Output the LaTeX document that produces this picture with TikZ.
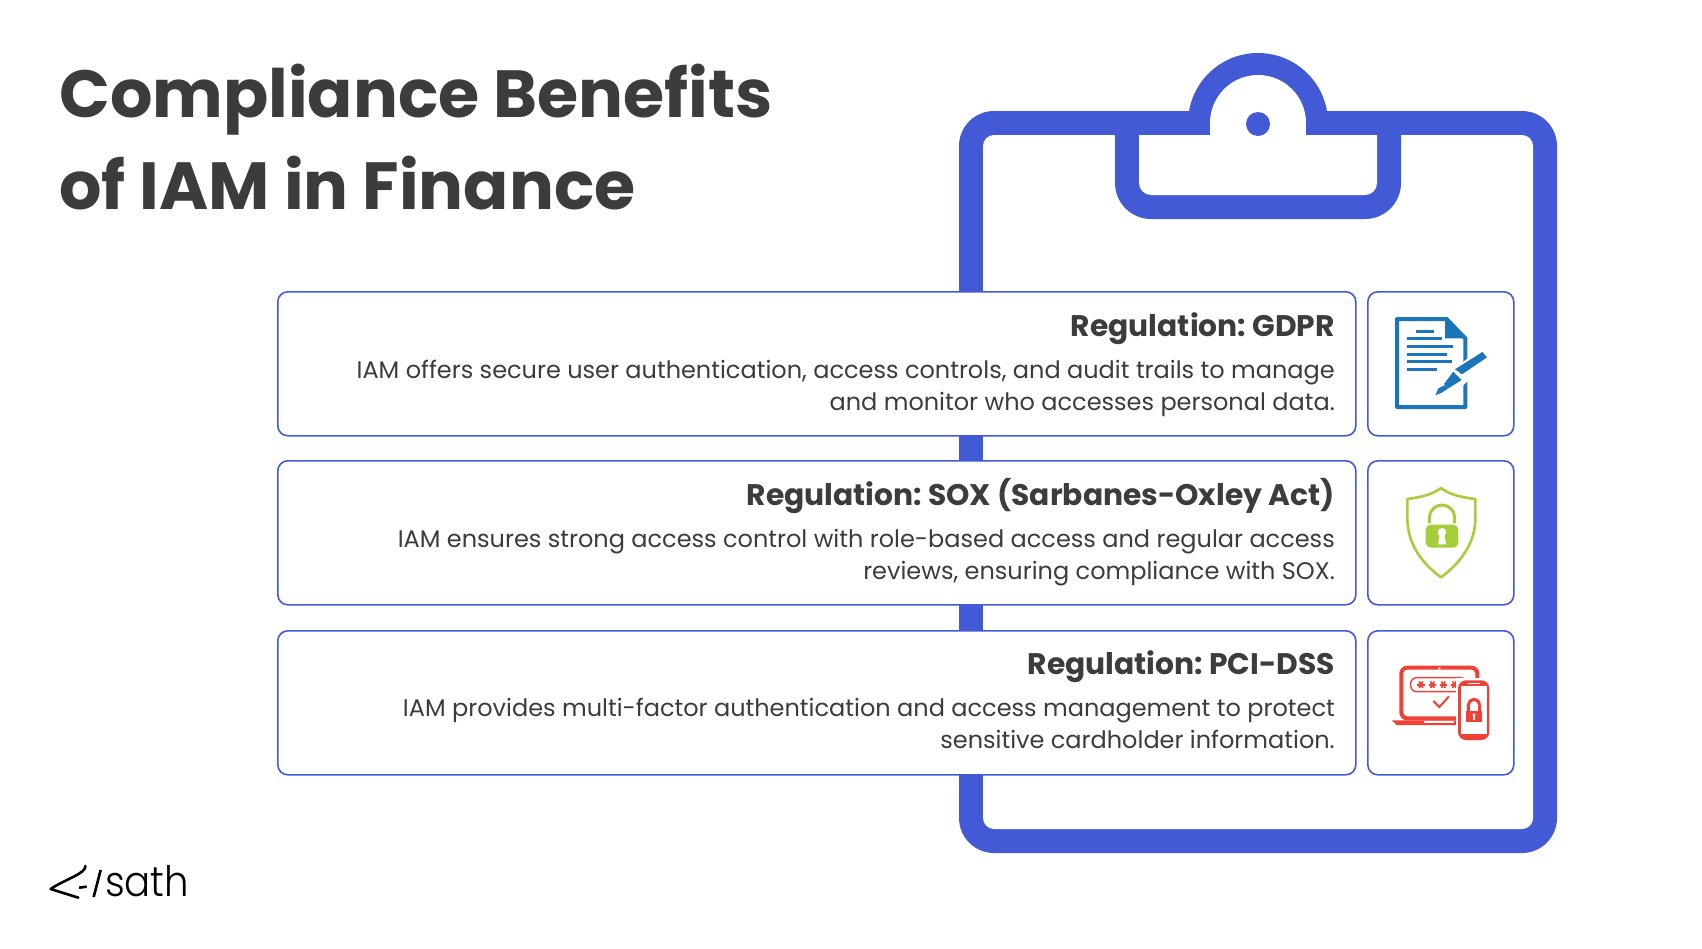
\documentclass[tikz,border=0pt]{standalone}
\usepackage{fontspec}
\setmainfont{Poppins}
\newfontfamily\logofont[FakeStretch=0.92]{Poppins Light}
\frenchspacing
\definecolor{clipblue}{HTML}{435AD6}
\definecolor{inkgray}{HTML}{3C3C3C}
\definecolor{docblue}{HTML}{1A75BB}
\definecolor{shieldgreen}{HTML}{A6CE39}
\definecolor{lockred}{HTML}{EF4136}
\tikzstyle{regbox}=[rectangle,rounded corners=10pt,draw=clipblue,line width=1.6pt,fill=white,anchor=north west,minimum height=144pt,minimum width=1078pt]
\tikzstyle{regtext}=[anchor=east,inner sep=0pt,align=right,text=inkgray,font=\fontsize{24}{32}\selectfont]
\tikzstyle{iconbox}=[rectangle,rounded corners=10pt,draw=clipblue,line width=1.6pt,fill=white,anchor=north west,minimum height=144pt,minimum width=146pt]
\newcommand{\regname}[1]{{\fontsize{29.75}{32}\selectfont\bfseries #1}}

\begin{document}
\begin{tikzpicture}[x=1pt,y=-1pt]
            \useasboundingbox (0,0) rectangle (1702,948);
            \fill[white] (0,0) rectangle (1702,948);
            % clipboard
            \fill[clipblue,rounded corners=35pt] (959,111) rectangle (1557,853);
            \fill[clipblue] (1258,123) circle (70);
            \fill[white,rounded corners=11pt] (983,135) rectangle (1533,829);
            \fill[clipblue] (1115,111) [rounded corners=36pt] -- (1115,219) -- (1401,219) [sharp corners] -- (1401,111) -- cycle;
            \fill[white] (1139,135) [rounded corners=12pt] -- (1139,195) -- (1377,195) [sharp corners] -- (1377,135) -- cycle;
            \fill[white] (1258,123) circle (48);
            \fill[white] (1210,123) rectangle (1306,136);
            \fill[clipblue] (1258,124) circle (12);
            % title
            \node (title) [anchor=north west,align=left,inner sep=0pt,text=inkgray,font=\fontsize{66.7}{92}\selectfont\bfseries] at (59,64) {Compliance Benefits\\of IAM in Finance};
            % boxes
            \node (gdpr) [regbox] at (277,291) {};
            \node (sox) [regbox] at (277,460) {};
            \node (pci) [regbox] at (277,630) {};
            \node (gdprtext) [regtext] at (1335,365) {\regname{Regulation: GDPR}\\[10pt]IAM offers secure user authentication, access controls, and audit trails to manage\\and monitor who accesses personal data.};
            \node (soxtext) [regtext] at (1335,532) {\regname{Regulation: SOX (Sarbanes-Oxley Act)}\\[10pt]IAM ensures strong access control with role-based access and regular access\\reviews, ensuring compliance with SOX.};
            \node (pcitext) [regtext] at (1335,699.5) {\regname{Regulation: PCI-DSS}\\[10pt]IAM provides multi-factor authentication and access management to protect\\sensitive cardholder information.};
            \node (gdpricon) [iconbox] at (1367,291) {};
            \node (soxicon) [iconbox] at (1367,460) {};
            \node (pciicon) [iconbox] at (1367,630) {};
            % document and pen
            \begin{scope}[shift={(1360,280)},scale=1/3]
            \draw[docblue,line width=4pt,line join=round] (316,250) -- (316,175) -- (258,117) -- (111,117) -- (111,381) -- (316,381) -- (316,300);
            \fill[docblue] (255,111) -- (255,175) -- (322,175) -- (262,111) -- cycle;
            \foreach \a/\b/\c in {155/168/222,176/140/245,198/140/280,222/140/260,245/140/275,269/140/232}
                \draw[docblue,line width=3pt] (\b,\a) -- (\c,\a);
            \fill[white] (345,215) -- (395,235) -- (300,325) -- (225,355) -- (215,340) -- (265,285) -- cycle;
            \fill[docblue] (367,216) -- (381,232) -- (306,283) -- (285,268) -- cycle;
            \fill[docblue] (280,275) -- (305,300) -- (265,325) -- (252,312) -- cycle;
            \fill[docblue] (255,315) -- (265,325) -- (245,338) -- (226,346) -- (235,325) -- cycle;
            \end{scope}
            % shield
            \begin{scope}[shift={(1360,450)},scale=1/3]
            \draw[shieldgreen,line width=2.6pt,line join=round] (243,114) .. controls (215,135) and (180,142) .. (142,147) -- (142,205) .. controls (142,280) and (185,340) .. (243,382) .. controls (300,340) and (346,280) .. (346,205) -- (346,147) .. controls (305,142) and (270,135) .. (243,114) -- cycle;
            \draw[shieldgreen,line width=3pt] (208,220) -- (208,203) arc (-180:0:38) -- (284,220);
            \fill[shieldgreen,rounded corners=5pt] (197,224) rectangle (295,293);
            \fill[white] (246,247) circle (13);
            \fill[white] (240,250) -- (252,250) -- (258,283) -- (234,283) -- cycle;
            \end{scope}
            % laptop and phone
            \begin{scope}[shift={(1360,625)},scale=1/3]
            \draw[lockred,line width=4pt,rounded corners=6pt] (124,128) rectangle (352,280);
            \fill[lockred] (96,286) -- (288,286) -- (288,300) -- (110,300) -- cycle;
            \fill[white] (192,287) rectangle (282,293);
            \fill[white] (238,130) circle (4);
            \draw[lockred,line width=1.4pt,rounded corners=6pt] (152,158) rectangle (320,200);
            \foreach \x in {183,217,250,283} {
                \foreach \r in {0,60,120}
                    \draw[lockred,line width=1.8pt,shift={(\x,179)},rotate=\r] (-11,0) -- (11,0);
            }
            \draw[lockred,line width=2pt] (220,228) -- (238,246) -- (267,214);
            \fill[white] (287,158) rectangle (395,352);
            \fill[lockred,rounded corners=8pt] (294,166) rectangle (388,345);
            \fill[white] (302,184) rectangle (380,328);
            \draw[white,line width=1.6pt] (325,175) -- (360,175);
            \draw[lockred,line width=3pt] (325,258) -- (325,240) arc (-180:0:17) -- (359,258);
            \fill[lockred] (317,258) rectangle (367,292);
            \fill[white] (342,270) circle (5);
            \fill[white] (339,270) rectangle (345,285);
            \end{scope}
            % logo
            \begin{scope}[shift={(30,850)},scale=1/3]
            \draw[black,line width=2.6pt,line cap=round,line join=round] (166,48) .. controls (170,70) and (100,90) .. (62,117) -- (145,143);
            \draw[black,line width=2.6pt] (147,113) -- (170,110);
            \draw[black,line width=2.6pt] (212,60) -- (191,141);
            \end{scope}
            \node (sath) [anchor=base west,inner sep=0pt,text=black,font=\fontsize{42}{42}\logofont] at (105,896) {sath};
        \end{tikzpicture}
\end{document}
